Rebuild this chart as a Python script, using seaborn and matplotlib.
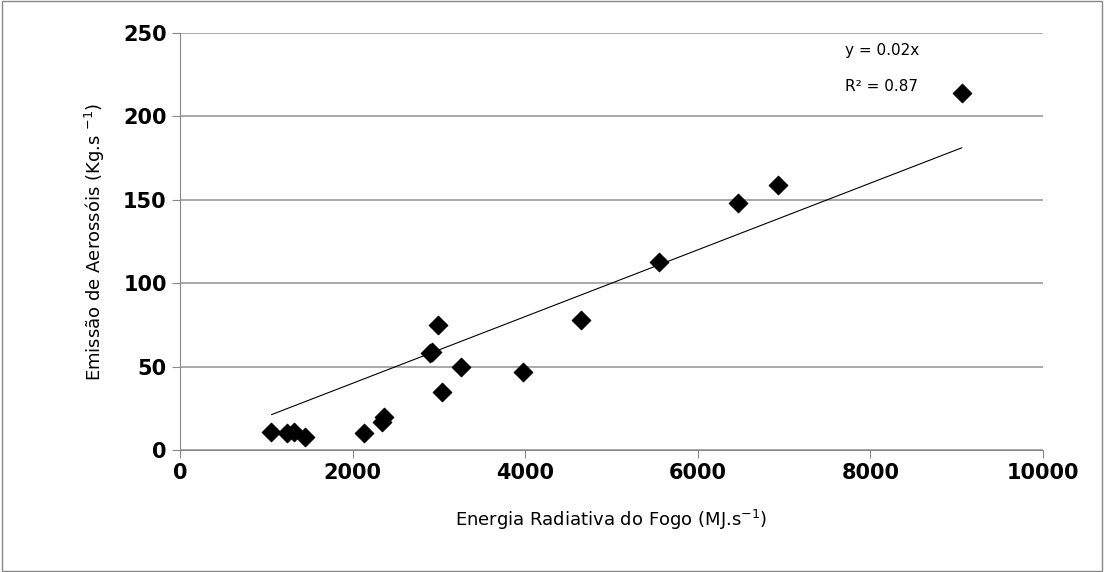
import numpy as np
import pandas as pd
import matplotlib
matplotlib.use("Agg")
import matplotlib.pyplot as plt
import seaborn as sns

frp = [1060, 1240, 1320, 1450, 2130, 2340, 2360, 2900, 2920, 2990, 3040, 3260,
       3970, 4650, 5550, 6470, 6930, 9060]
aer = [11, 10, 11, 8, 10, 17, 20, 58, 59, 75, 35, 50,
       47, 78, 113, 148, 159, 214]
slope = 0.02
data = pd.DataFrame({"frp": frp, "aer": aer})

sns.set_style("white")
plt.rcParams['font.family'] = ['DejaVu Sans']
plt.rcParams['text.color'] = 'black'
plt.rcParams['axes.labelcolor'] = 'black'
plt.rcParams['xtick.labelcolor'] = 'black'
plt.rcParams['ytick.labelcolor'] = 'black'

fig = plt.figure(figsize=(11.04, 5.72), dpi=100)
ax = fig.add_axes([180/1104, 1 - 450/572, (1043-180)/1104, (450-33)/572])

sns.scatterplot(x="frp", y="aer", data=data, marker="D", s=90, color="black",
                edgecolor="black", ax=ax, zorder=3)
xs = np.array([min(frp), max(frp)])
ax.plot(xs, slope * xs, color="black", lw=0.8)

ax.set_xlim(0, 10000)
ax.set_ylim(0, 250)
ax.set_xticks(range(0, 10001, 2000))
ax.set_yticks(range(0, 251, 50))
ax.yaxis.grid(True, color="#9a9a9a", lw=1.2)
for s in ["top", "right"]:
    ax.spines[s].set_visible(False)
for s in ["left", "bottom"]:
    ax.spines[s].set_color("#888888")
ax.tick_params(axis="both", direction="out", length=6, color="#888888",
               labelsize=15, left=True, bottom=True)
for lab in ax.get_xticklabels() + ax.get_yticklabels():
    lab.set_fontweight("bold")
ax.set_xlabel("Energia Radiativa do Fogo (MJ.s$^{-1}$)", fontsize=13, labelpad=18)
ax.set_ylabel("Emissão de Aerossóis (Kg.s $^{-1}$)", fontsize=13, labelpad=12)
ax.text(7700, 237, "y = 0.02x", fontsize=11)
ax.text(7700, 215, "R² = 0.87", fontsize=11)

fig.patches.append(plt.Rectangle((0.002, 0.002), 0.996, 0.996, transform=fig.transFigure,
                                 fill=False, edgecolor="#888888", lw=1))
fig.savefig("out.png", dpi=100)
